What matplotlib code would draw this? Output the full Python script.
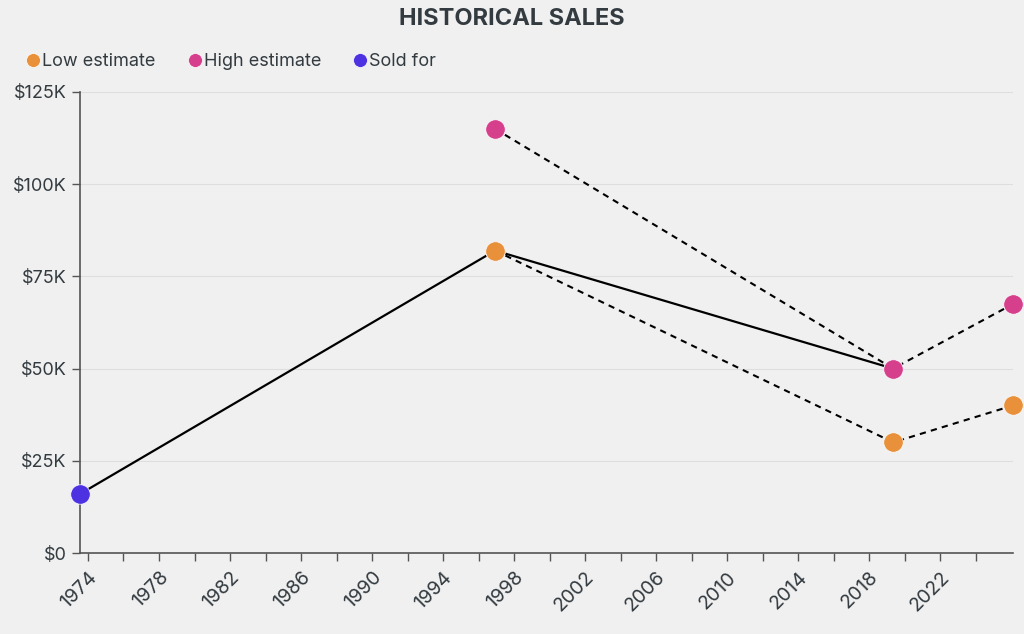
import matplotlib.pyplot as plt
from matplotlib.lines import Line2D
from matplotlib.ticker import FuncFormatter, MultipleLocator, FixedLocator

plt.rcParams['font.family'] = ['Inter', 'DejaVu Sans']

# sale dates as decimal years
dates = [1973.55, 1996.93, 2019.35, 2026.1]
sold_for = [16000, 82000, 50000]
low_estimate = [82000, 30000, 40000]
high_estimate = [115000, 50000, 67500]
year_ticks = list(range(1974, 2026, 4))
minor_ticks = list(range(1974, 2026, 2))

sold_dates = dates[:3]
est_dates = dates[1:]

orange = '#e8903a'
pink = '#d63f8c'
blue = '#4d32e2'
bg = '#f0f0f0'
text_col = '#333b40'

fig = plt.figure(figsize=(10.24, 6.34), dpi=100, facecolor=bg)
ax = fig.add_axes([80/1024, 81/634, 933/1024, 461/634])
ax.set_facecolor(bg)

# lines
ax.plot(sold_dates, sold_for, color='black', lw=1.6, zorder=2)
ax.plot(est_dates, low_estimate, color='black', lw=1.5, ls=(0, (3, 2.5)), zorder=2)
ax.plot(est_dates, high_estimate, color='black', lw=1.5, ls=(0, (3, 2.5)), zorder=2)

# points
ax.plot(sold_dates, sold_for, 'o', color=blue, ms=14, mec='white', mew=0.5, zorder=3, clip_on=False)
ax.plot(est_dates, low_estimate, 'o', color=orange, ms=14, mec='white', mew=0.5, zorder=4, clip_on=False)
ax.plot(est_dates, high_estimate, 'o', color=pink, ms=14, mec='white', mew=0.5, zorder=4, clip_on=False)

ax.set_xlim(dates[0], dates[-1])
ax.set_ylim(0, 125000)
ax.xaxis.set_major_locator(FixedLocator(year_ticks))
ax.xaxis.set_minor_locator(FixedLocator(minor_ticks))
ax.yaxis.set_major_locator(MultipleLocator(25000))
ax.yaxis.set_major_formatter(FuncFormatter(lambda v, p: '$0' if v == 0 else f'${int(v/1000)}K'))
ax.xaxis.set_major_formatter(FuncFormatter(lambda v, p: f'{int(round(v))}'))

for s in ['top', 'right']:
    ax.spines[s].set_visible(False)
for s in ['left', 'bottom']:
    ax.spines[s].set_color('#555555')
    ax.spines[s].set_linewidth(1.2)

ax.tick_params(axis='both', which='both', colors='#555555', length=6, width=1, labelcolor=text_col, labelsize=13)
ax.tick_params(axis='x', which='major', labelsize=14, pad=5)
for lab in ax.get_xticklabels():
    lab.set_rotation(45)
    lab.set_ha('right')
    lab.set_rotation_mode('anchor')

ax.grid(axis='y', color='#dedede', lw=0.8)
ax.set_axisbelow(True)

fig.text(0.5, 1 - 19/634, 'HISTORICAL SALES', ha='center', va='center',
         fontsize=17, fontweight='bold', color=text_col)

handles = [Line2D([], [], ls='none', marker='o', color=c, ms=10, mec='white', mew=0.5)
           for c in (orange, pink, blue)]
fig.legend(handles, ['Low estimate', 'High estimate', 'Sold for'], loc='center left',
           bbox_to_anchor=(10/1024, 1 - 62/634), ncol=3, frameon=False,
           handlelength=0.8, handletextpad=0.1, columnspacing=1.75,
           fontsize=13, labelcolor=text_col)

fig.savefig('out.png', dpi=100, facecolor=bg)
